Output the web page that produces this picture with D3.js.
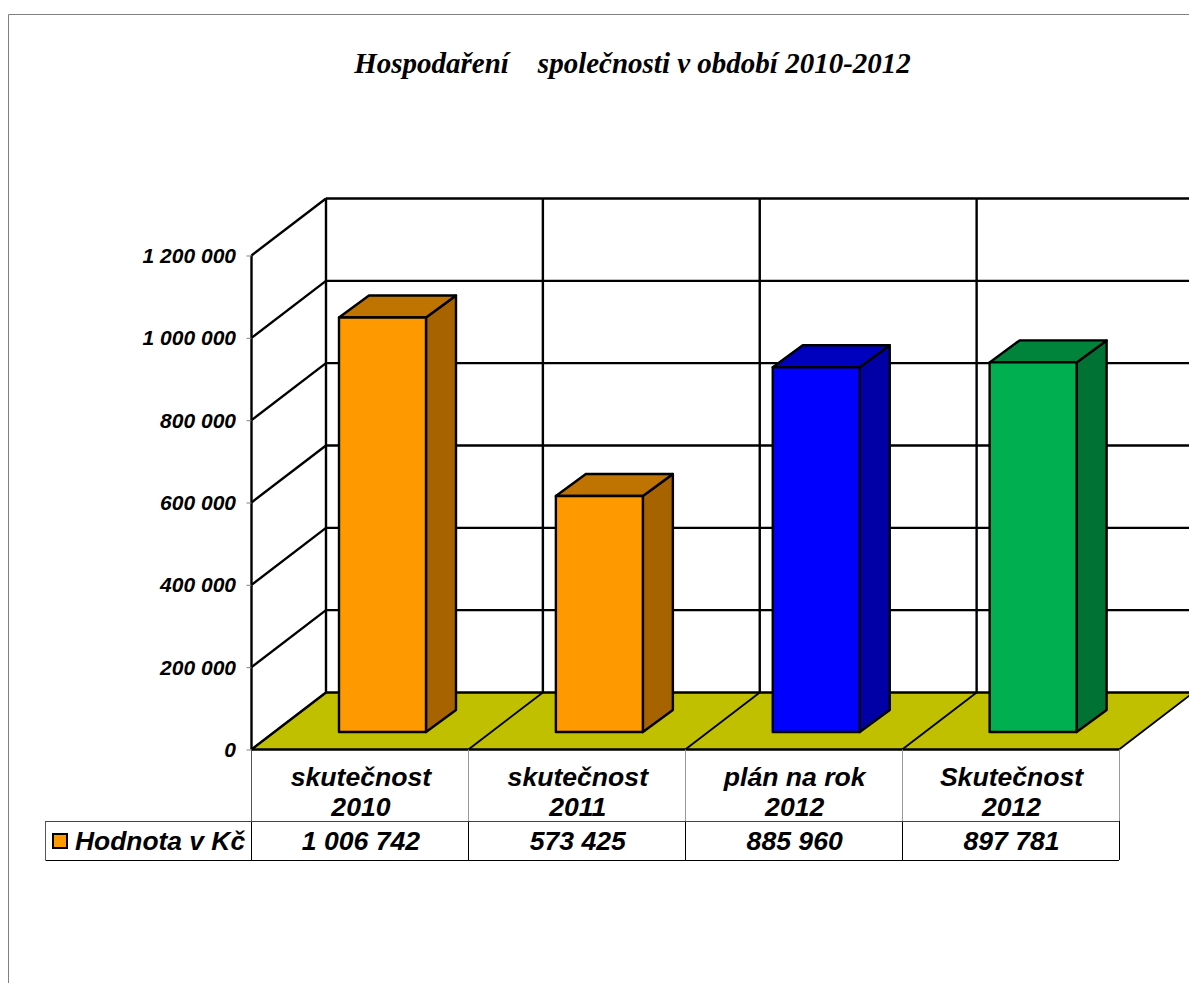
<!DOCTYPE html>
<html>
<head>
<meta charset="utf-8">
<script src="https://cdn.jsdelivr.net/npm/d3@7"></script>
<style>
  html, body { margin: 0; padding: 0; background: #fff; overflow: hidden; }
  text { font-family: "Liberation Sans", sans-serif; font-weight: bold; font-style: italic; fill: #000; }
  .title { font-family: "Liberation Serif", serif; font-size: 29px; white-space: pre; }
</style>
</head>
<body>
<svg id="chart" width="1189" height="983"></svg>
<script>
const title = "Hospodaření    společnosti v období 2010-2012"
const categories = ["skutečnost 2010", "skutečnost 2011", "plán na rok 2012", "Skutečnost 2012"]
const values = [1006742, 573425, 885960, 897781]
const barColors = ["#ff9900", "#ff9900", "#0000ff", "#00b050"]
const yTicks = [0, 200000, 400000, 600000, 800000, 1000000, 1200000]
const seriesName = "Hodnota v Kč"

const width = 1189
const height = 983
const svg = d3.select("#chart")

const x_scale = d3.scaleBand().domain(categories).range([251.5, 1119])
const y_scale = d3.scaleLinear().domain([0, 1200000]).range([749.5, 255.5])
const fmt = d3.formatLocale({ decimal: ",", thousands: " ", grouping: [3], currency: ["", ""] }).format(",d")

// fake 3d: depth of the box and of one bar
const depthX = 74.5, depthY = -57
const barX = 87.5, barW = 87, barLift = -17.5, barDX = 30, barDY = -22
const lineW = 2.4
const shade = (c, k) => { const r = d3.rgb(c); return d3.rgb(r.r * k, r.g * k, r.b * k).formatHex() }
const poly = pts => pts.map(p => p.join(",")).join(" ")

// outer frame
svg.append("path").attr("d", `M8.5,983V14.5H${width}`).attr("fill", "none").attr("stroke", "#808080").attr("stroke-width", 1)

svg.append("text").attr("class", "title").attr("x", 632.5).attr("y", 73).attr("text-anchor", "middle").text(title)

// floor
const x0 = x_scale.range()[0], x1 = x_scale.range()[1]
svg.append("polygon")
  .attr("points", poly([[x0, y_scale(0)], [x0 + depthX, y_scale(0) + depthY], [x1 + depthX, y_scale(0) + depthY], [x1, y_scale(0)]]))
  .attr("fill", "#c0c000")

// back wall grid
svg.selectAll("line.back").data(yTicks).join("line").attr("class", "back")
  .attr("x1", x0 + depthX).attr("x2", x1 + depthX)
  .attr("y1", d => y_scale(d) + depthY).attr("y2", d => y_scale(d) + depthY)
  .attr("stroke", "#000").attr("stroke-width", lineW)

const splitX = categories.map(c => x_scale(c)).concat([x1])
svg.selectAll("line.wall").data(splitX).join("line").attr("class", "wall")
  .attr("x1", d => d + depthX).attr("x2", d => d + depthX)
  .attr("y1", y_scale(1200000) + depthY).attr("y2", y_scale(0) + depthY)
  .attr("stroke", "#000").attr("stroke-width", lineW)

// side wall grid
svg.selectAll("line.side").data(yTicks).join("line").attr("class", "side")
  .attr("x1", x0).attr("x2", x0 + depthX)
  .attr("y1", d => y_scale(d)).attr("y2", d => y_scale(d) + depthY)
  .attr("stroke", "#000").attr("stroke-width", lineW)

// floor dividers
svg.selectAll("line.floor").data(splitX).join("line").attr("class", "floor")
  .attr("x1", d => d).attr("x2", d => d + depthX)
  .attr("y1", y_scale(0)).attr("y2", y_scale(0) + depthY)
  .attr("stroke", "#000").attr("stroke-width", 1.8)

// bars
const bars = svg.selectAll("g.bar").data(categories).join("g").attr("class", "bar")
  .attr("stroke", "#000").attr("stroke-width", lineW).attr("stroke-linejoin", "round")
bars.each(function (c, i) {
  const g = d3.select(this)
  const l = x_scale(c) + barX, r = l + barW
  const t = y_scale(values[i]) + barLift, b = y_scale(0) + barLift
  g.append("polygon").attr("fill", shade(barColors[i], 0.65))
    .attr("points", poly([[r, t], [r + barDX, t + barDY], [r + barDX, b + barDY], [r, b]]))
  g.append("polygon").attr("fill", shade(barColors[i], 0.75))
    .attr("points", poly([[l, t], [l + barDX, t + barDY], [r + barDX, t + barDY], [r, t]]))
  g.append("rect").attr("x", l).attr("y", t).attr("width", barW).attr("height", b - t).attr("fill", barColors[i])
})

// y axis
const yAxis = svg.append("g").attr("transform", `translate(${x0},0)`)
  .call(d3.axisLeft(y_scale).tickValues(yTicks).tickFormat(fmt).tickSize(5).tickPadding(10.5))
yAxis.selectAll("text").attr("font-size", null).style("font-size", "21px").attr("dy", "0.34em")
yAxis.selectAll(".tick line").attr("stroke", "#808080")
yAxis.select(".domain").attr("stroke", "#000").attr("stroke-width", lineW).attr("d", `M0,${y_scale(1200000)}V${y_scale(0)}`)

// front floor edge
svg.append("line").attr("x1", x0).attr("x2", x1).attr("y1", y_scale(0)).attr("y2", y_scale(0))
  .attr("stroke", "#000").attr("stroke-width", 2.6)

// data table
const rowTop = y_scale(0), rowMid = 821, rowBottom = 860, tableLeft = 45.5
const grid = svg.append("g").attr("stroke", "#000").attr("stroke-width", 1)
splitX.forEach((d, i) => {
  grid.append("line").attr("x1", Math.floor(d) + 0.5).attr("x2", Math.floor(d) + 0.5)
    .attr("y1", rowTop).attr("y2", rowMid).attr("stroke", i === 0 ? "#555" : "#999")
  grid.append("line").attr("x1", Math.floor(d) + 0.5).attr("x2", Math.floor(d) + 0.5)
    .attr("y1", rowMid).attr("y2", rowBottom)
})
grid.append("line").attr("x1", tableLeft).attr("x2", tableLeft).attr("y1", rowMid).attr("y2", rowBottom).attr("stroke", "#555")
grid.append("line").attr("x1", tableLeft).attr("x2", x1).attr("y1", rowMid + 0.5).attr("y2", rowMid + 0.5).attr("stroke", "#444")
grid.append("line").attr("x1", tableLeft).attr("x2", x1).attr("y1", rowBottom + 0.5).attr("y2", rowBottom + 0.5)

const cx = c => x_scale(c) + x_scale.bandwidth() / 2 + 1
svg.selectAll("text.cat1").data(categories).join("text").attr("class", "cat1")
  .attr("x", cx).attr("y", 786).attr("text-anchor", "middle").style("font-size", "26.6px")
  .text(c => c.slice(0, c.lastIndexOf(" ")))
svg.selectAll("text.cat2").data(categories).join("text").attr("class", "cat2")
  .attr("x", cx).attr("y", 816).attr("text-anchor", "middle").style("font-size", "26.6px")
  .text(c => c.slice(c.lastIndexOf(" ") + 1))
svg.selectAll("text.val").data(categories).join("text").attr("class", "val")
  .attr("x", cx).attr("y", 850).attr("text-anchor", "middle").style("font-size", "26.6px")
  .text((c, i) => fmt(values[i]))

// legend key
svg.append("rect").attr("x", 53).attr("y", 834).attr("width", 14).attr("height", 14)
  .attr("fill", barColors[0]).attr("stroke", "#000").attr("stroke-width", 2)
svg.append("text").attr("x", 75).attr("y", 850).style("font-size", "26.4px").text(seriesName)
</script>
</body>
</html>
